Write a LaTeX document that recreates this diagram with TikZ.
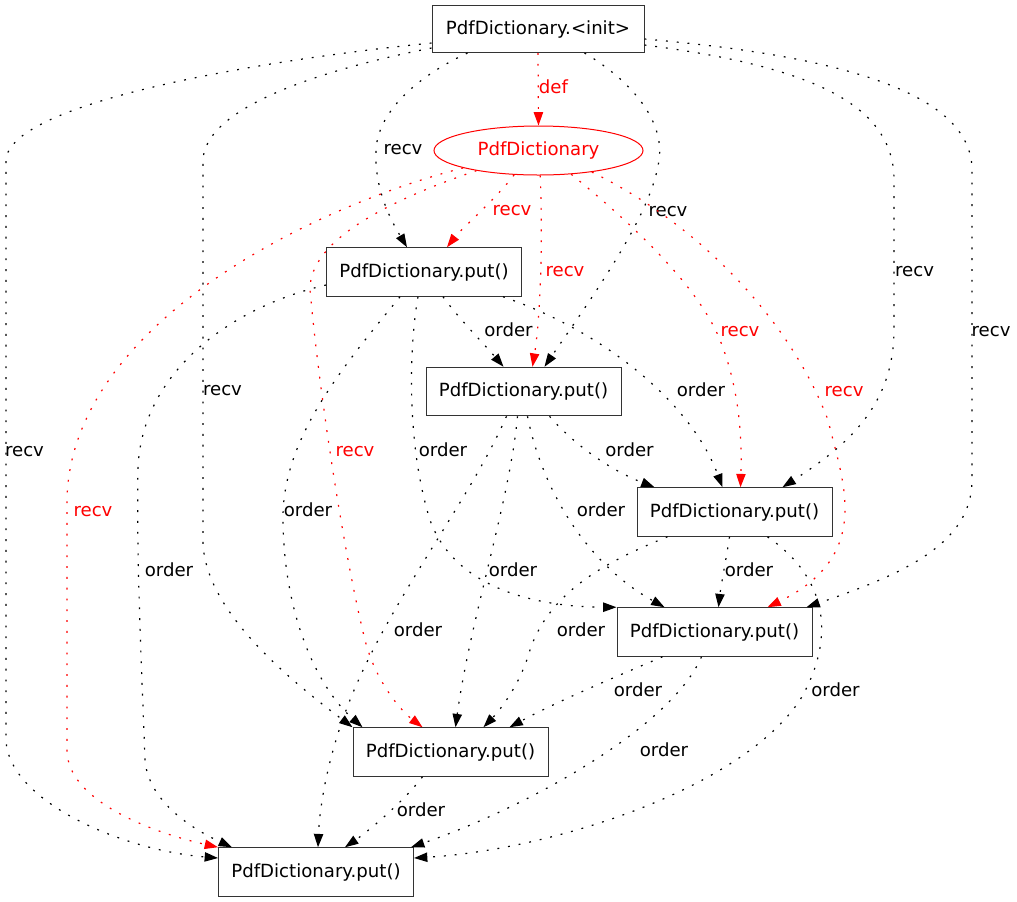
\documentclass[tikz,border=0pt]{standalone}
\usepackage{fontspec}
\setmainfont{DejaVu Sans}
\usetikzlibrary{arrows.meta,shapes.geometric,calc}
\begin{document}
\begin{tikzpicture}[x=0.75pt,y=-0.75pt,
  txt/.style={font=\fontsize{13.6}{16}\selectfont},
  box/.style={txt, draw=black!80, line width=0.75pt, rectangle, minimum width=146.25pt, minimum height=36.4pt, inner sep=0pt},
  ell/.style={txt, draw=red, text=red, line width=0.75pt, ellipse, minimum width=156.75pt, minimum height=36.75pt, inner sep=0pt},
  conn/.style={line width=0.9pt, dash pattern=on 1.4pt off 6.7pt, -{Triangle[length=10pt,width=7pt]}},
  rconn/.style={conn, red},
  lbl/.style={txt, anchor=base, inner sep=0pt},
  rlbl/.style={lbl, text=red}]
\path[use as bounding box, fill=white] (0,0) rectangle (1017,901);

% nodes
\node[box, minimum width=159pt, minimum height=35.25pt] (init) at (538,29) {PdfDictionary.<init>};
\node[ell] (pd) at (538.5,150.5) {PdfDictionary};
\node[box] (put1) at (424,272) {PdfDictionary.put()};
\node[box] (put2) at (523.5,391.5) {PdfDictionary.put()};
\node[box] (put3) at (734.5,512) {PdfDictionary.put()};
\node[box] (put4) at (714.5,632) {PdfDictionary.put()};
\node[box] (put5) at (450.5,752) {PdfDictionary.put()};
\node[box] (put6) at (316,872) {PdfDictionary.put()};

% def
\draw[rconn] (init.south) -- (pd.north);
\node[rlbl] (ldef) at (553.5,93.5) {def};

% init -> put (recv)
\draw[conn] ($(init.south west)+(36,0)$) .. controls (420,75) and (378,110) .. (376,150) .. controls (374,190) and (392,222) .. ($(put1.north west)+(81,0)$);
\draw[conn] ($(init.south west)+(153,0)$) .. controls (630,80) and (665,120) .. (659,160) .. controls (652,215) and (590,300) .. ($(put2.north west)+(119,0)$);
\draw[conn] ($(init.east)+(0,16)$) .. controls (800,65) and (894,100) .. (894,180) -- (894,330) .. controls (894,410) and (840,450) .. ($(put3.north west)+(146,0)$);
\draw[conn] ($(init.east)+(0,10)$) .. controls (830,55) and (972,90) .. (972,170) -- (972,480) .. controls (972,545) and (900,575) .. ($(put4.north west)+(190,0)$);
\draw[conn] ($(init.west)+(0,19)$) .. controls (310,72) and (205,110) .. (203,160) -- (203,540) .. controls (203,610) and (290,680) .. (put5.north west);
\draw[conn] ($(init.west)+(0,14)$) .. controls (280,58) and (10,100) .. (6,160) -- (6,740) .. controls (8,800) and (120,850) .. ($(put6.west)+(0,-14)$);
\node[lbl] (l1) at (403,154.5) {recv};
\node[lbl] (l2) at (668,216.5) {recv};
\node[lbl] (l3) at (914.5,276.5) {recv};
\node[lbl] (l4) at (991,336.5) {recv};
\node[lbl] (l5) at (222.5,395.5) {recv};
\node[lbl] (l6) at (24.5,456.5) {recv};

% PdfDictionary -> put (recv, red)
\draw[rconn] (pd.-135) .. controls (495,200) and (462,228) .. ($(put1.north west)+(121,0)$);
\draw[rconn] (pd.-86) .. controls (543,250) and (540,320) .. ($(put2.north west)+(107,0)$);
\draw[rconn] (pd.-36) .. controls (640,230) and (700,290) .. (720,340) .. controls (740,390) and (742,440) .. ($(put3.north west)+(104,0)$);
\draw[rconn] (pd.-22) .. controls (700,225) and (790,320) .. (828,420) .. controls (842,480) and (875,555) .. ($(put4.north west)+(151,0)$);
\draw[rconn] (pd.-162.6) .. controls (390,200) and (309,240) .. (310,290) .. controls (320,400) and (345,560) .. (365,640) .. controls (375,680) and (400,710) .. ($(put5.north west)+(70,0)$);
\draw[rconn] (pd.-167.7) .. controls (300,210) and (70,330) .. (67,500) -- (67,750) .. controls (67,800) and (150,832) .. (put6.north west);
\node[rlbl] (r1) at (512,215.5) {recv};
\node[rlbl] (r2) at (565,276.5) {recv};
\node[rlbl] (r3) at (740,336.5) {recv};
\node[rlbl] (r4) at (844,396.5) {recv};
\node[rlbl] (r5) at (355,456.5) {recv};
\node[rlbl] (r6) at (93,516.5) {recv};

% order edges
\draw[conn] ($(put1.south west)+(117,0)$) .. controls (460,320) and (485,345) .. ($(put2.north west)+(78,0)$);
\draw[conn] ($(put1.south west)+(177,0)$) .. controls (600,330) and (690,400) .. ($(put3.north west)+(86,0)$);
\draw[conn] ($(put1.south west)+(92,0)$) .. controls (410,340) and (405,440) .. (430,520) .. controls (455,590) and (540,607) .. (put4.north west);
\draw[conn] ($(put1.south west)+(74,0)$) .. controls (340,370) and (282,440) .. (283,520) .. controls (284,620) and (320,690) .. ($(put5.north west)+(10,0)$);
\draw[conn] ($(put1.west)+(0,13)$) .. controls (220,310) and (140,380) .. (138,470) .. controls (136,560) and (143,700) .. (145,760) .. controls (148,800) and (190,828) .. ($(put6.north west)+(14,0)$);
\draw[conn] ($(put2.south west)+(124,0)$) .. controls (570,440) and (605,468) .. ($(put3.north west)+(18,0)$);
\draw[conn] ($(put2.south west)+(102,0)$) .. controls (540,480) and (580,560) .. ($(put4.north west)+(48,0)$);
\draw[conn] ($(put2.south west)+(92,0)$) .. controls (510,500) and (470,620) .. ($(put5.north west)+(103,0)$);
\draw[conn] ($(put2.south west)+(81,0)$) .. controls (470,500) and (390,600) .. (350,700) .. controls (330,750) and (320,800) .. ($(put6.north west)+(100,0)$);
\draw[conn] ($(put3.south west)+(93,0)$) .. controls (726,560) and (721,585) .. ($(put4.north west)+(102,0)$);
\draw[conn] ($(put3.south west)+(31,0)$) .. controls (610,560) and (550,590) .. (530,650) .. controls (520,685) and (500,710) .. ($(put5.north west)+(131,0)$);
\draw[conn] ($(put3.south west)+(131,0)$) .. controls (830,580) and (835,640) .. (800,700) .. controls (740,790) and (550,850) .. ($(put6.east)+(0,-14)$);
\draw[conn] ($(put4.south west)+(46,0)$) .. controls (620,675) and (560,700) .. ($(put5.north west)+(157,0)$);
\draw[conn] ($(put4.south west)+(85,0)$) .. controls (670,730) and (520,810) .. ($(put6.north west)+(193,0)$);
\draw[conn] ($(put5.south west)+(70,0)$) .. controls (405,800) and (370,830) .. ($(put6.north west)+(127,0)$);

\node[lbl] (o12) at (508.5,336.5) {order};
\node[lbl] (o13) at (701,396.5) {order};
\node[lbl] (o14) at (443,456.5) {order};
\node[lbl] (o15) at (308,516.5) {order};
\node[lbl] (o16) at (169,576.5) {order};
\node[lbl] (o23) at (629.5,456.5) {order};
\node[lbl] (o24) at (601,516.5) {order};
\node[lbl] (o25) at (513,576.5) {order};
\node[lbl] (o26) at (418,636.5) {order};
\node[lbl] (o34) at (749,576.5) {order};
\node[lbl] (o35) at (581,636.5) {order};
\node[lbl] (o36) at (835.5,696.5) {order};
\node[lbl] (o45) at (638,696.5) {order};
\node[lbl] (o46) at (664,756.5) {order};
\node[lbl] (o56) at (421,816.5) {order};
\end{tikzpicture}
\end{document}
